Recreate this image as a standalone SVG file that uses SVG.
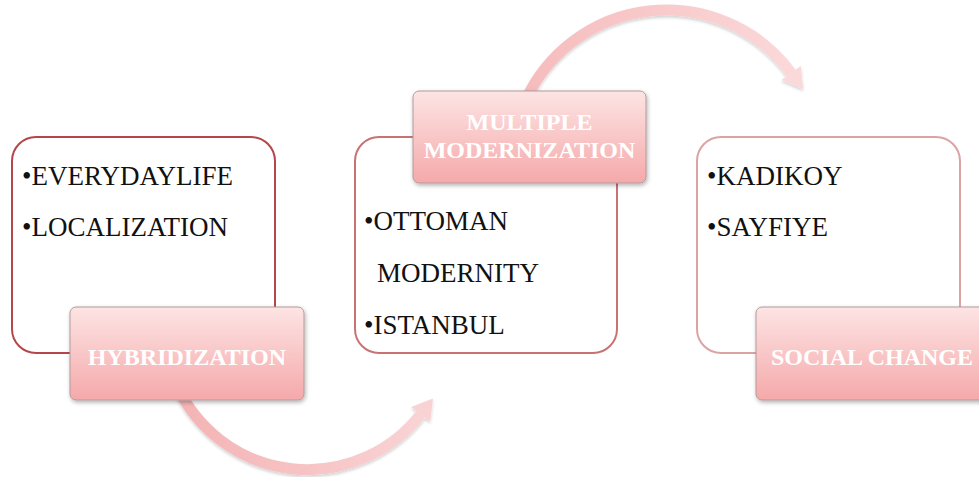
<svg xmlns="http://www.w3.org/2000/svg" width="979" height="477" viewBox="0 0 979 477">
<style>
.body{font-family:"Liberation Serif","Times New Roman",serif;font-size:27px;fill:#111}
.lbl{font-family:"Liberation Serif","Times New Roman",serif;font-size:24px;font-weight:bold;fill:#fff;text-anchor:middle}
.lblbox{fill:url(#lg);stroke:#b39a9a;stroke-width:1}
.arc{fill:none;stroke-width:11}
</style>
<defs>
<linearGradient id="lg" x1="0" y1="0" x2="0" y2="1">
<stop offset="0" stop-color="#fde4e4"/>
<stop offset="1" stop-color="#f5a9aa"/>
</linearGradient>
<linearGradient id="ag1" x1="0" y1="0" x2="1" y2="0">
<stop offset="0" stop-color="#f4b3b4"/>
<stop offset="1" stop-color="#f9d3d4"/>
</linearGradient>
<linearGradient id="ag2" x1="0" y1="0" x2="1" y2="0">
<stop offset="0" stop-color="#f6bcbd"/>
<stop offset="1" stop-color="#fbd8d9"/>
</linearGradient>
<filter id="sh" x="-20%" y="-20%" width="140%" height="150%">
<feDropShadow dx="1" dy="2" stdDeviation="2" flood-color="#000" flood-opacity="0.3"/>
</filter>
<filter id="ash" x="-20%" y="-20%" width="140%" height="140%">
<feDropShadow dx="0" dy="2" stdDeviation="1.5" flood-color="#000" flood-opacity="0.18"/>
</filter>
</defs>
<rect width="979" height="477" fill="#fff"/>
<g id="connectors">
<g id="arrow-bottom" filter="url(#ash)">
<path class="arc" stroke="url(#ag1)" d="M177.4,386.7 A143.6,143.6 0 0 0 420.7,414.4"/>
<polygon fill="#f9d3d4" points="433,398.6 430.2,421.8 411.2,407.0"/>
</g>
<g id="arrow-top" filter="url(#ash)">
<path class="arc" stroke="url(#ag2)" d="M526.1,99.4 A154.9,154.9 0 0 1 791.2,73.0"/>
<polygon fill="#fbd8d9" points="803.1,89.1 800.9,65.9 781.5,80.1"/>
</g>
</g>
<g id="node-hybridization">
<rect x="12" y="137" width="263" height="216" rx="24" fill="#fff" stroke="#b4474b" stroke-width="2"/>
<text class="body" x="22" y="185">•EVERYDAYLIFE</text>
<text class="body" x="22" y="236">•LOCALIZATION</text>
<rect class="lblbox" x="70" y="307" width="234" height="93" rx="6" filter="url(#sh)"/>
<text class="lbl" x="187" y="365">HYBRIDIZATION</text>
</g>
<g id="node-multiple">
<rect x="355" y="137" width="262" height="216" rx="24" fill="#fff" stroke="#c87274" stroke-width="2"/>
<text class="body" x="364" y="230">•OTTOMAN</text>
<text class="body" x="377" y="282">MODERNITY</text>
<text class="body" x="364" y="334">•ISTANBUL</text>
<rect class="lblbox" x="413" y="91" width="233" height="92" rx="6" filter="url(#sh)"/>
<text class="lbl" x="529.5" y="130">MULTIPLE</text>
<text class="lbl" x="529.5" y="158">MODERNIZATION</text>
</g>
<g id="node-social">
<rect x="697" y="137" width="263" height="216" rx="24" fill="#fff" stroke="#dca3a5" stroke-width="2"/>
<text class="body" x="707" y="185">•KADIKOY</text>
<text class="body" x="707" y="236">•SAYFIYE</text>
<rect class="lblbox" x="756" y="307" width="234" height="93" rx="6" filter="url(#sh)"/>
<text class="lbl" x="872" y="365">SOCIAL CHANGE</text>
</g>
</svg>
